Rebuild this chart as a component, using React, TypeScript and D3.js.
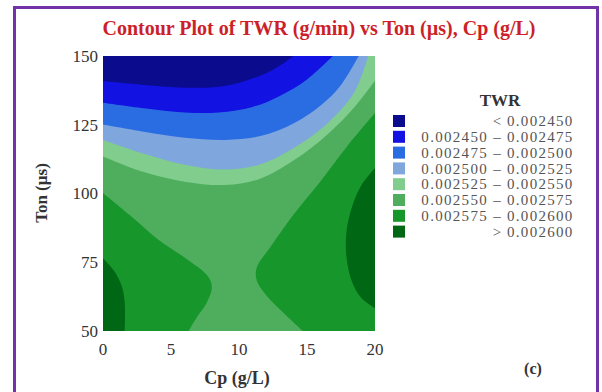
import React from 'react';
import * as d3 from 'd3';

// ---- Data ----
const cpTicks = [0, 5, 10, 15, 20];
const tonTicks = [50, 75, 100, 125, 150];
const levelBreaks = [0.00245, 0.002475, 0.0025, 0.002525, 0.00255, 0.002575, 0.0026];
const levelColors = ['#0b0b8e', '#1212e2', '#2a6de2', '#7fa6dd', '#80cd8d', '#4fae5d', '#17962b', '#006815'];
const legendLeft = ['', '0.002450', '0.002475', '0.002500', '0.002525', '0.002550', '0.002575', ''];
const legendMid = ['<', '–', '–', '–', '–', '–', '–', '>'];
const legendRight = ['0.002450', '0.002475', '0.002500', '0.002525', '0.002550', '0.002575', '0.002600', '0.002600'];

// Contour lines (Cp, Ton), one entry per boundary.
// contourLevel: index into levelBreaks; region above the level is filled.
const contourLevel = [0, 1, 2, 3, 4, 5, 5, 6, 6];
const contourCp = [
  [0, 3, 6, 8.5, 10.5, 12.5, 14],
  [0, 3, 6, 8.5, 11, 13, 15, 16.9],
  [0, 3, 6, 9, 11.5, 14, 16, 17.5, 18.8],
  [0, 3, 6, 9, 11.5, 14, 16.5, 18.5, 19.5],
  [0, 3, 6, 9, 11.5, 14, 16.5, 18.5, 20],
  [0, 2, 4, 6.2, 7.7, 8, 7.6, 6.9, 6.3],
  [20, 18, 16, 14, 12.3, 11.3, 11.3, 12, 13.3, 14.7],
  [0, 0.8, 1.4, 1.6, 1.6],
  [20, 19, 18.3, 17.9, 17.9, 18.3, 19, 20],
];
const contourTon = [
  [140.9, 139.5, 138.5, 138.8, 141, 145, 150],
  [133, 131, 129.5, 129.5, 131.5, 135.5, 141.5, 150],
  [125.1, 122.5, 120.3, 119.5, 120.8, 125.5, 132, 139.5, 150],
  [119.5, 114.5, 110.5, 108.7, 110.5, 116.5, 125.5, 137, 150],
  [113.5, 107.8, 104.3, 103.1, 105.3, 112, 121.5, 131.5, 141],
  [100.2, 92, 83.5, 76, 70, 66, 60, 55, 50],
  [129.3, 117.5, 104.5, 92.3, 80.5, 73, 68.5, 63, 56.5, 50],
  [76.5, 72, 66, 60, 50],
  [109.3, 103, 95, 86, 77, 68, 62, 58.3],
];
// plot corners used to close each filled region (Cp, Ton pairs)
const closeCp = [[20, 20, 0], [20, 20, 0], [20, 20, 0], [20, 20, 0], [20, 0], [0], [20], [0], []];
const closeTon = [[150, 50, 50], [150, 50, 50], [150, 50, 50], [150, 50, 50], [50, 50], [50], [50], [50], []];

// ---- layout ----
const W = 602, H = 392;
const PX = 103, PY = 56, PW = 272, PH = 275;
const SERIF = '"Liberation Serif", "Times New Roman", serif';

export default function App() {
  const x = d3.scaleLinear().domain([0, 20]).range([PX, PX + PW]);
  const y = d3.scaleLinear().domain([50, 150]).range([PY + PH, PY]);

  const curve = d3
    .line<[number, number]>()
    .x((d) => x(d[0]))
    .y((d) => y(d[1]))
    .curve(d3.curveCatmullRom.alpha(0.5));

  const regions = contourCp.map((cps, k) => {
    const pts = cps.map((c, i) => [c, contourTon[k][i]] as [number, number]);
    let d = curve(pts) || '';
    closeCp[k].forEach((c, i) => {
      d += `L${x(c)},${y(closeTon[k][i])}`;
    });
    d += 'Z';
    return { d, color: levelColors[contourLevel[k] + 1] };
  });

  const rowY = (i: number) => 121 + i * 15.8;

  return (
    <svg width={W} height={H} style={{ position: 'absolute', left: 0, top: 0, background: '#fff' }}>
      <rect x={14.5} y={7.5} width={583} height={400} fill="none" stroke="#7232a8" strokeWidth={3} />
      <text x={319} y={35} textAnchor="middle" fontFamily={SERIF} fontWeight="bold" fontSize={20} fill="#cc1f2a">
        Contour Plot of TWR (g/min) vs Ton (µs), Cp (g/L)
      </text>
      <defs>
        <clipPath id="plotclip">
          <rect x={PX} y={PY} width={PW} height={PH} />
        </clipPath>
      </defs>
      <g clipPath="url(#plotclip)">
        <rect x={PX} y={PY} width={PW} height={PH} fill={levelColors[0]} />
        {regions.map((r, i) => (
          <path key={i} d={r.d} fill={r.color} stroke="none" />
        ))}
      </g>
      {tonTicks.map((t) => (
        <text key={t} x={PX - 5} y={y(t)} dy="0.35em" textAnchor="end" fontFamily={SERIF} fontSize={17} fill="#333">
          {t}
        </text>
      ))}
      {cpTicks.map((c) => (
        <text key={c} x={x(c)} y={355} textAnchor="middle" fontFamily={SERIF} fontSize={17} fill="#333">
          {c}
        </text>
      ))}
      <text x={237} y={384} textAnchor="middle" fontFamily={SERIF} fontWeight="bold" fontSize={18} fill="#333">
        Cp (g/L)
      </text>
      <text
        transform="translate(47,193) rotate(-90)"
        textAnchor="middle"
        fontFamily={SERIF}
        fontWeight="bold"
        fontSize={17}
        fill="#333"
      >
        Ton (µs)
      </text>
      <text x={533} y={374} textAnchor="middle" fontFamily={SERIF} fontWeight="bold" fontSize={16} fill="#333">
        (c)
      </text>
      <text x={500} y={106} textAnchor="middle" fontFamily={SERIF} fontWeight="bold" fontSize={17} fill="#333">
        TWR
      </text>
      {levelColors.map((col, i) => (
        <g key={i}>
          <rect x={393} y={rowY(i) - 6} width={12} height={12} fill={col} />
          <text x={488} y={rowY(i)} dy="0.35em" textAnchor="end" fontFamily={SERIF} fontSize={15} letterSpacing={1.3} fill="#555">
            {legendLeft[i]}
          </text>
          <text x={497} y={rowY(i)} dy="0.35em" textAnchor="middle" fontFamily={SERIF} fontSize={15} fill="#555">
            {legendMid[i]}
          </text>
          <text x={507} y={rowY(i)} dy="0.35em" textAnchor="start" fontFamily={SERIF} fontSize={15} letterSpacing={1.3} fill="#555">
            {legendRight[i]}
          </text>
        </g>
      ))}
    </svg>
  );
}
